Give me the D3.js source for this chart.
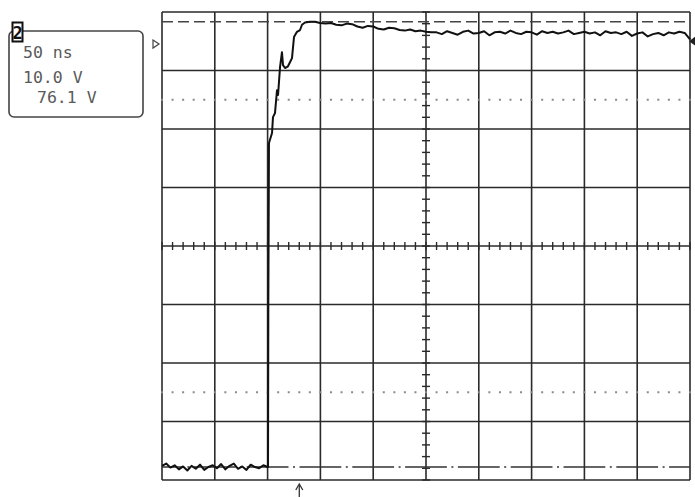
<!DOCTYPE html>
<html>
<head>
<meta charset="utf-8">
<script src="https://cdn.jsdelivr.net/npm/d3@7"></script>
<style>
  html, body { margin: 0; padding: 0; background: #fff; }
  svg { display: block; }
</style>
</head>
<body>
<svg id="scope" width="695" height="497"></svg>
<script>
// Graticule settings
const timeDivs = 10;
const nsPerDiv = 50;
const voltDivs = 8;
const voltsPerDiv = 10;
const groundDivsAboveBottom = 0.222;

// Readout box text
const channelLabel = "2";
const readoutLines = ["50 ns", "10.0 V", "76.1 V"];

// Markers
const cursorVolts = 76.1;
const triggerTimeNs = 130;
const refMarkerVolts = 72.3;
const levelMarkerVolts = 72.8;

// Captured waveform: time (ns) and amplitude (V)
const traceTimes = [
  0, 4, 8, 12, 16, 20, 24, 28, 32, 36,
  40, 44, 48, 52, 56, 60, 64, 68, 72, 76,
  80, 84, 88, 92, 96, 100,
  100.4, 100.7, 101.3, 104.2, 105.1, 107.0, 108.9, 109.9, 111.8, 113.6,
  114.6, 116.5, 119.3, 121.2, 123.1, 125.0, 127.8, 130.7, 132.6, 135.4,
  140.2, 144.9, 149.6,
  155, 160, 165, 170, 175, 180, 185, 190, 195, 200,
  205, 210, 215, 220, 225, 230, 235, 240, 245, 250, 255,
  260, 265, 270, 275, 280, 285, 290, 295, 300, 305,
  310, 315, 320, 325, 330, 335, 340, 345, 350, 355,
  360, 365, 370, 375, 380, 385, 390, 395, 400, 405,
  410, 415, 420, 425, 430, 435, 440, 445, 450, 455,
  460, 465, 470, 475, 480, 485, 490, 495, 500
];
const traceVolts = [
  0.2, 0.6, -0.1, 0.3, -0.4, 0.1, -0.6, 0.2, -0.3, 0.4,
  -0.5, 0.0, 0.3, -0.2, 0.5, -0.4, 0.2, 0.6, -0.3, 0.1,
  -0.5, 0.4, 0.0, -0.2, 0.3, 0.0,
  0.0, 28.0, 55.4, 57.1, 59.8, 60.5, 64.4, 63.6, 68.4, 70.9,
  68.7, 68.2, 68.5, 69.2, 69.9, 73.5, 74.4, 74.7, 75.6, 76.0,
  76.1, 76.1, 75.9,
  75.8, 75.9, 75.6, 75.5, 75.8, 75.7, 75.3, 75.1, 75.4, 75.3,
  74.9, 74.8, 75.1, 75.0, 74.7, 74.6, 74.8, 74.5, 74.6, 74.4, 74.3,
  74.3, 74.0, 74.5, 74.2, 73.9, 74.4, 74.6, 74.1, 74.2, 74.5,
  73.8, 74.3, 74.4, 74.1, 74.6, 74.2, 74.0, 74.4, 74.3, 73.9,
  74.5, 74.2, 74.4, 74.1, 74.3, 74.6, 74.0, 74.2, 74.4, 74.1,
  74.3, 73.8, 74.5, 74.2, 74.3, 74.0, 74.4, 73.7, 74.1, 74.3,
  73.6, 74.0, 74.2, 73.8, 74.3, 74.1, 74.4, 74.2, 73.1
];

const svg = d3.select("#scope");
const plot = { left: 162, right: 690, top: 12, bottom: 480 };

const x = d3.scaleLinear()
  .domain([0, timeDivs * nsPerDiv])
  .range([plot.left, plot.right]);

const vMin = -groundDivsAboveBottom * voltsPerDiv;
const y = d3.scaleLinear()
  .domain([vMin, vMin + voltDivs * voltsPerDiv])
  .range([plot.bottom, plot.top]);

const gridColor = "#2a2a2a";
const g = svg.append("g");

// Major graticule lines
g.selectAll("line.vgrid")
  .data(d3.range(timeDivs + 1))
  .join("line")
  .attr("x1", d => x(d * nsPerDiv)).attr("x2", d => x(d * nsPerDiv))
  .attr("y1", plot.top).attr("y2", plot.bottom)
  .attr("stroke", gridColor).attr("stroke-width", 1.6);

g.selectAll("line.hgrid")
  .data(d3.range(voltDivs + 1))
  .join("line")
  .attr("x1", plot.left).attr("x2", plot.right)
  .attr("y1", d => y(vMin + d * voltsPerDiv)).attr("y2", d => y(vMin + d * voltsPerDiv))
  .attr("stroke", gridColor).attr("stroke-width", 1.6);

// Minor ticks along the centre axes (5 per division)
const xc = x(timeDivs * nsPerDiv / 2);
const yc = y(vMin + voltDivs * voltsPerDiv / 2);
g.selectAll("line.xtick")
  .data(d3.range(timeDivs * 5 + 1))
  .join("line")
  .attr("x1", d => x(d * nsPerDiv / 5)).attr("x2", d => x(d * nsPerDiv / 5))
  .attr("y1", yc - 4).attr("y2", yc + 4)
  .attr("stroke", gridColor).attr("stroke-width", 1.4);
g.selectAll("line.ytick")
  .data(d3.range(voltDivs * 5 + 1))
  .join("line")
  .attr("x1", xc - 4).attr("x2", xc + 4)
  .attr("y1", d => y(vMin + d * voltsPerDiv / 5)).attr("y2", d => y(vMin + d * voltsPerDiv / 5))
  .attr("stroke", gridColor).attr("stroke-width", 1.4);

// Dotted reference rows, 1.5 divisions in from top and bottom
[1.5, voltDivs - 1.5].forEach(div => {
  const yy = y(vMin + div * voltsPerDiv);
  g.selectAll(null)
    .data(d3.range(timeDivs * 5 + 1))
    .join("rect")
    .attr("x", d => x(d * nsPerDiv / 5) - 1)
    .attr("y", yy - 1)
    .attr("width", 2).attr("height", 2)
    .attr("fill", "#8a8a8a");
});

// Ground reference (dash-dot)
const divPx = x(nsPerDiv) - x(0);
g.append("line")
  .attr("x1", x(0)).attr("x2", x(timeDivs * nsPerDiv))
  .attr("y1", y(0)).attr("y2", y(0))
  .attr("stroke", "#333").attr("stroke-width", 1.5)
  .attr("stroke-dasharray", `${divPx - 11},4.5,2,4.5`)
  .attr("stroke-dashoffset", (divPx - 11) + 5.5 - divPx / 2);

// Voltage cursor (dashed)
g.append("line")
  .attr("x1", x(0)).attr("x2", x(timeDivs * nsPerDiv))
  .attr("y1", y(cursorVolts)).attr("y2", y(cursorVolts))
  .attr("stroke", "#444").attr("stroke-width", 1.5)
  .attr("stroke-dasharray", "11,5");

// Waveform
const line = d3.line()
  .x(d => x(d[0]))
  .y(d => y(d[1]));
const tracePoints = traceTimes.map((t, i) => [t, traceVolts[i]]);
svg.append("path")
  .datum(tracePoints)
  .attr("d", line)
  .attr("fill", "none")
  .attr("stroke", "#111")
  .attr("stroke-width", 2)
  .attr("stroke-linejoin", "round");

// Channel reference marker on the left edge
const ry = y(refMarkerVolts);
svg.append("path")
  .attr("d", `M${plot.left - 9},${ry - 4} L${plot.left - 3},${ry} L${plot.left - 9},${ry + 4} Z`)
  .attr("fill", "none").attr("stroke", "#444").attr("stroke-width", 1.2);

// Trigger level marker on the right edge
const ly = y(levelMarkerVolts);
svg.append("path")
  .attr("d", `M${plot.right - 1},${ly} L${plot.right + 6},${ly - 5} L${plot.right + 6},${ly + 5} Z`)
  .attr("fill", "#222");

// Trigger position arrow below the graticule
const tx = x(triggerTimeNs);
svg.append("line")
  .attr("x1", tx).attr("x2", tx).attr("y1", 485).attr("y2", 497)
  .attr("stroke", "#333").attr("stroke-width", 1.3);
svg.append("path")
  .attr("d", `M${tx - 3.5},${490} L${tx},${484} L${tx + 3.5},${490}`)
  .attr("fill", "none").attr("stroke", "#333").attr("stroke-width", 1.3);

// Readout box
const box = svg.append("g");
box.append("rect")
  .attr("x", 9).attr("y", 31).attr("width", 134).attr("height", 86).attr("rx", 5)
  .attr("fill", "#fff").attr("stroke", "#444").attr("stroke-width", 1.6);
box.append("rect")
  .attr("x", 12.5).attr("y", 22.5).attr("width", 10).attr("height", 19)
  .attr("fill", "#fff").attr("stroke", "#111").attr("stroke-width", 2);
box.append("text")
  .attr("x", 17.5).attr("y", 39)
  .attr("text-anchor", "middle")
  .attr("font-family", "DejaVu Sans Mono, monospace")
  .attr("font-size", 17).attr("font-weight", "bold")
  .attr("fill", "#111")
  .text(channelLabel);

const readoutPos = [[23, 58], [23, 83], [37, 103]];
box.selectAll("text.readout")
  .data(readoutLines)
  .join("text")
  .attr("class", "readout")
  .attr("x", (d, i) => readoutPos[i][0])
  .attr("y", (d, i) => readoutPos[i][1])
  .attr("font-family", "DejaVu Sans Mono, monospace")
  .attr("font-size", 16.5)
  .attr("fill", "#5a5a5a")
  .text(d => d);
</script>
</body>
</html>
